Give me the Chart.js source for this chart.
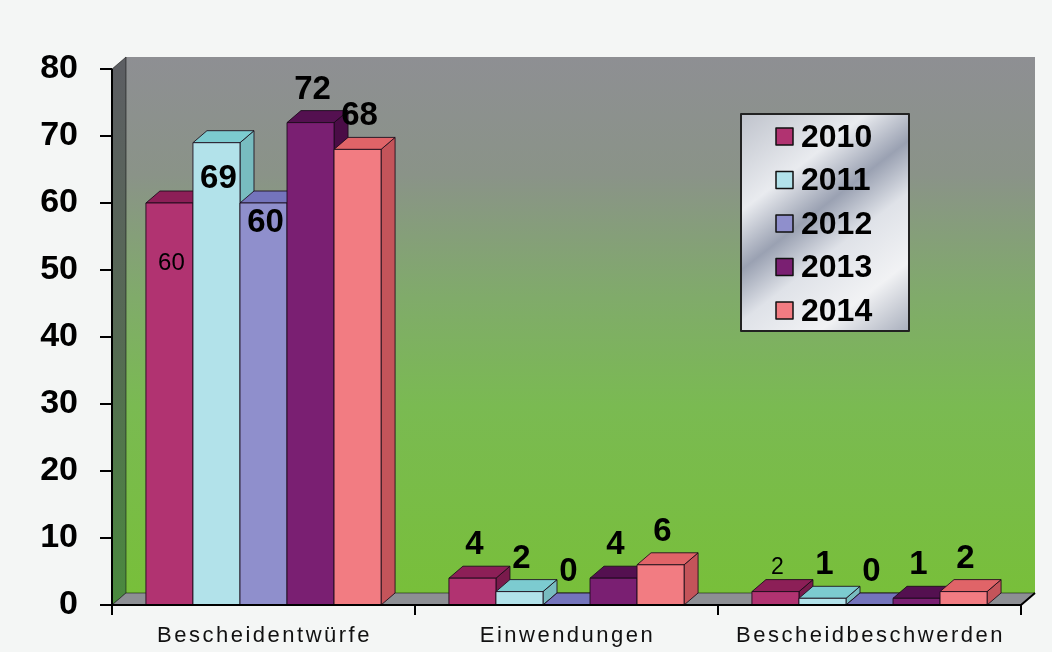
<!DOCTYPE html>
<html>
<head>
<meta charset="utf-8">
<script src="https://cdn.jsdelivr.net/npm/chart.js@4.4.0/dist/chart.umd.min.js"></script>
<style>
  html, body { margin: 0; padding: 0; background: #f4f6f5; }
  #wrap { width: 1052px; height: 652px; }
</style>
</head>
<body>
<div id="wrap"><canvas id="chart" width="1052" height="652"></canvas></div>
<script>
// Kategorien, Jahre und Werte
const categories = ["Bescheidentwürfe", "Einwendungen", "Bescheidbeschwerden"]
const years = ["2010", "2011", "2012", "2013", "2014"]
const values2010 = [60, 4, 2]
const values2011 = [69, 2, 1]
const values2012 = [60, 0, 0]
const values2013 = [72, 4, 1]
const values2014 = [68, 6, 2]
const yTicks = [0, 10, 20, 30, 40, 50, 60, 70, 80]

// Farben je Jahr (Vorderseite, Deckel, Seite)
const faces = [
  { front: "#b13371", top: "#8c1f57", side: "#7a1a4c" },
  { front: "#b2e2ea", top: "#7ccbd0", side: "#78bcc0" },
  { front: "#8f8fcc", top: "#7474bc", side: "#6a6aae" },
  { front: "#7a1f72", top: "#541050", side: "#4a0c46" },
  { front: "#f27c82", top: "#e06468", side: "#c4545a" }
]

// 3D-Tiefe
const DX = 14
const DY = 12

// einzelne Beschriftungen, die Excel anders gesetzt hat
const labelTweaks = {
  "0:0": { dy: 60, font: "24px 'Liberation Sans'" },
  "1:0": { dy: 36 },
  "2:0": { dy: 20 },
  "0:2": { dy: -24, font: "23px 'Liberation Sans'" }
}

function poly(ctx, pts, fill) {
  ctx.beginPath()
  ctx.moveTo(pts[0][0], pts[0][1])
  for (let i = 1; i < pts.length; i++) ctx.lineTo(pts[i][0], pts[i][1])
  ctx.closePath()
  ctx.fillStyle = fill
  ctx.fill()
  ctx.stroke()
}

const box3d = {
  id: "box3d",
  beforeDraw(chart) {
    const { ctx, chartArea: a } = chart
    ctx.save()
    ctx.fillStyle = "#f4f6f5"
    ctx.fillRect(0, 0, chart.width, chart.height)

    // Rückwand
    const g = ctx.createLinearGradient(0, a.top - DY, 0, a.bottom - DY)
    g.addColorStop(0, "#8e8f93")
    g.addColorStop(0.22, "#8a9388")
    g.addColorStop(0.45, "#80ab6a")
    g.addColorStop(0.65, "#7aba52")
    g.addColorStop(1, "#78bf3a")
    ctx.fillStyle = g
    ctx.fillRect(a.left + DX, a.top - DY, a.right - a.left, a.bottom - a.top)

    // Seitenwand links
    const s = ctx.createLinearGradient(0, a.top, 0, a.bottom)
    s.addColorStop(0, "#5c5e62")
    s.addColorStop(0.5, "#566a54")
    s.addColorStop(1, "#4a8a3e")
    ctx.strokeStyle = "rgba(0,0,0,0.5)"
    ctx.lineWidth = 1
    poly(ctx, [[a.left, a.top], [a.left + DX, a.top - DY], [a.left + DX, a.bottom - DY], [a.left, a.bottom]], s)

    // Boden
    poly(ctx, [[a.left, a.bottom], [a.left + DX, a.bottom - DY], [a.right + DX, a.bottom - DY], [a.right, a.bottom]], "#8d8f94")
    ctx.restore()
  },
  afterDatasetsDraw(chart) {
    const { ctx, chartArea: a } = chart
    ctx.save()
    ctx.lineWidth = 1
    ctx.lineJoin = "round"
    ctx.strokeStyle = "rgba(25,10,25,0.85)"

    // Säulen in richtiger Reihenfolge neu zeichnen
    chart.data.datasets.forEach((ds, di) => {
      const c = faces[di]
      chart.getDatasetMeta(di).data.forEach(el => {
        const p = el.getProps(["x", "y", "base", "width"], true)
        const x0 = p.x - p.width / 2
        const x1 = p.x + p.width / 2
        const top = Math.min(p.y, p.base)
        const bottom = p.base
        poly(ctx, [[x1, top], [x1 + DX, top - DY], [x1 + DX, bottom - DY], [x1, bottom]], c.side)
        poly(ctx, [[x0, top], [x0 + DX, top - DY], [x1 + DX, top - DY], [x1, top]], c.top)
        ctx.fillStyle = c.front
        ctx.fillRect(x0, top, x1 - x0, bottom - top)
        ctx.strokeRect(x0, top, x1 - x0, bottom - top)
      })
    })

    // Achsen
    const yScale = chart.scales.y
    const xScale = chart.scales.x
    ctx.strokeStyle = "#000"
    ctx.lineWidth = 2
    ctx.beginPath()
    ctx.moveTo(a.left, a.top)
    ctx.lineTo(a.left, a.bottom)
    ctx.lineTo(a.right, a.bottom)
    ctx.lineTo(a.right + DX, a.bottom - DY)
    yTicks.forEach(v => {
      const y = yScale.getPixelForValue(v)
      ctx.moveTo(a.left - 12, y)
      ctx.lineTo(a.left, y)
    })
    const n = categories.length
    for (let i = 0; i <= n; i++) {
      const x = a.left + (a.right - a.left) * i / n
      ctx.moveTo(x, a.bottom)
      ctx.lineTo(x, a.bottom + 10)
    }
    ctx.stroke()

    // Datenbeschriftungen
    ctx.fillStyle = "#000"
    ctx.textAlign = "center"
    ctx.textBaseline = "middle"
    chart.data.datasets.forEach((ds, di) => {
      chart.getDatasetMeta(di).data.forEach((el, i) => {
        const t = labelTweaks[di + ":" + i] || {}
        ctx.font = t.font || "bold 33px 'Liberation Sans'"
        const dy = t.dy !== undefined ? t.dy : -33
        ctx.fillText(String(ds.data[i]), el.x + 2, el.y + dy)
      })
    })

    // Kategorienamen
    ctx.font = "22px 'Liberation Sans'"
    ctx.fillStyle = "#111"
    ctx.letterSpacing = "2.5px"
    categories.forEach((c, i) => {
      ctx.fillText(c, xScale.getPixelForValue(i) + 1, a.bottom + 31)
    })
    ctx.letterSpacing = "0px"

    // Legende
    const bx = a.right - 280
    const by = a.top + 45
    const bw = 168
    const bh = 217
    const lg = ctx.createLinearGradient(bx, by, bx + bw, by + bh)
    lg.addColorStop(0, "#bfc3cc")
    lg.addColorStop(0.28, "#e9ebef")
    lg.addColorStop(0.45, "#9aa1b2")
    lg.addColorStop(0.6, "#dfe2e8")
    lg.addColorStop(0.8, "#f1f2f4")
    lg.addColorStop(1, "#a9afbd")
    ctx.fillStyle = lg
    ctx.fillRect(bx, by, bw, bh)
    ctx.strokeStyle = "#222"
    ctx.lineWidth = 2
    ctx.strokeRect(bx, by, bw, bh)
    ctx.textAlign = "left"
    ctx.font = "bold 32px 'Liberation Sans'"
    years.forEach((yr, i) => {
      const cy = by + 22 + i * 43.5
      ctx.fillStyle = faces[i].front
      ctx.fillRect(bx + 35, cy - 8, 17, 17)
      ctx.lineWidth = 1.5
      ctx.strokeStyle = "#111"
      ctx.strokeRect(bx + 35, cy - 8, 17, 17)
      ctx.fillStyle = "#000"
      ctx.fillText(yr, bx + 60, cy + 2)
    })
    ctx.restore()
  }
}

const seriesValues = [values2010, values2011, values2012, values2013, values2014]

new Chart(document.getElementById("chart"), {
  type: "bar",
  data: {
    labels: categories,
    datasets: years.map((yr, i) => ({
      label: yr,
      data: seriesValues[i],
      backgroundColor: faces[i].front,
      borderWidth: 0
    }))
  },
  options: {
    responsive: false,
    animation: false,
    devicePixelRatio: 1,
    layout: { padding: { left: 38, right: 31, top: 69, bottom: 47 } },
    plugins: {
      legend: { display: false },
      tooltip: { enabled: false }
    },
    datasets: {
      bar: { categoryPercentage: 0.776, barPercentage: 1 }
    },
    scales: {
      x: {
        grid: { display: false, drawTicks: false },
        border: { display: false },
        ticks: { display: false },
        afterFit: s => { s.height = 0 }
      },
      y: {
        min: 0,
        max: 80,
        grid: { display: false, drawTicks: false },
        border: { display: false },
        afterBuildTicks: s => { s.ticks = yTicks.map(v => ({ value: v })) },
        afterFit: s => {
          s.width = 74
          s.paddingTop = 0
          s.paddingBottom = 0
        },
        ticks: {
          padding: 34,
          color: "#000",
          font: { family: "'Liberation Sans'", size: 34, weight: "bold" }
        }
      }
    }
  },
  plugins: [box3d]
})
</script>
</body>
</html>
